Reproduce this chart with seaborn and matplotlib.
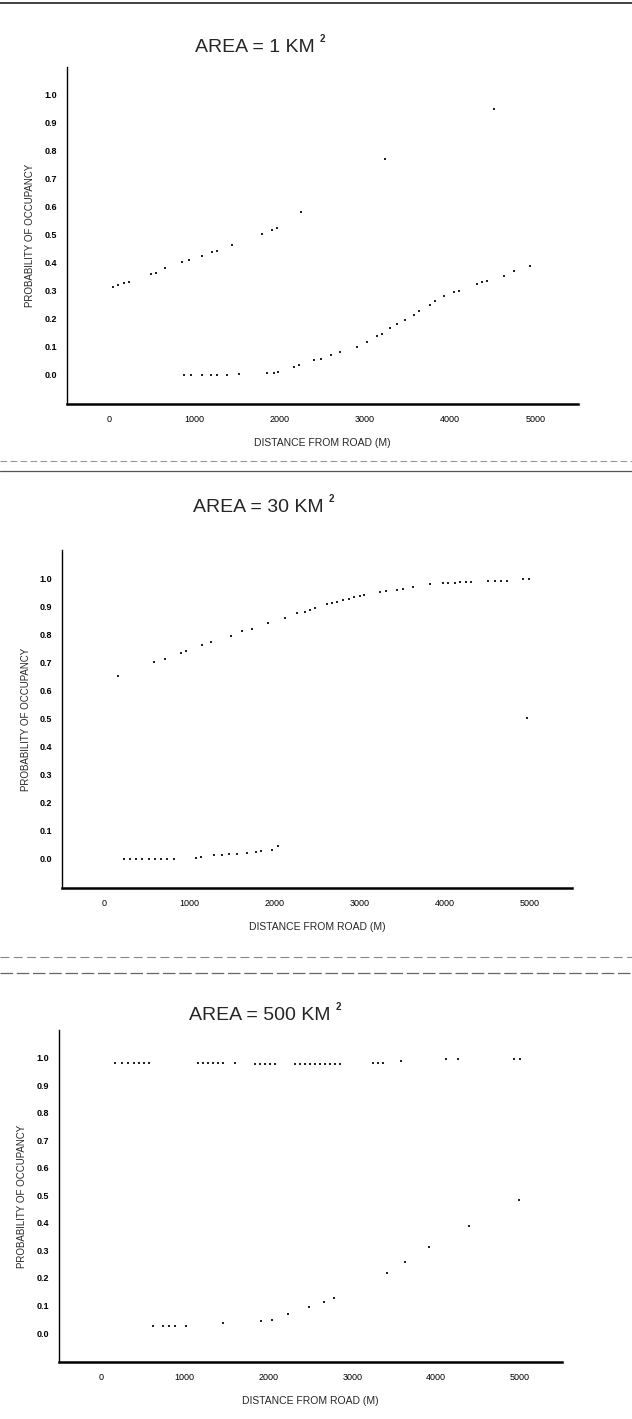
"""
Probabilidad de ocupación vs distancia a la carretera, para tres tamaños de área.
Recreación de una figura escaneada (tres paneles apilados).
"""

import matplotlib
matplotlib.use("Agg")
import matplotlib.pyplot as plt
from matplotlib.lines import Line2D
import seaborn as sns

# --- datos ---
p1_upper_x = [43, 98, 168, 227, 481, 540, 646, 853, 931, 1088, 1205, 1256, 1440, 1792, 1909, 1968, 2250, 3231, 4519]
p1_upper_y = [0.313, 0.319, 0.327, 0.33, 0.361, 0.365, 0.38, 0.402, 0.41, 0.425, 0.438, 0.443, 0.462, 0.504, 0.518, 0.524, 0.58, 0.77, 0.95]
p1_lower_x = [872, 951, 1088, 1185, 1264, 1381, 1518, 1851, 1929, 1976, 2164, 2222, 2406, 2477, 2594, 2711,
              2907, 3024, 3141, 3200, 3290, 3377, 3474, 3572, 3638, 3760, 3826, 3924, 4041, 4100, 4315,
              4374, 4433, 4628, 4745, 4941]
p1_lower_y = [0.0, 0.0, 0.0, 0.0, 0.0, 0.0, 0.002, 0.006, 0.006, 0.01, 0.029, 0.033, 0.051, 0.057, 0.071, 0.082,
              0.098, 0.115, 0.137, 0.145, 0.167, 0.181, 0.196, 0.214, 0.226, 0.25, 0.262, 0.28, 0.294, 0.298, 0.324,
              0.33, 0.336, 0.354, 0.369, 0.389]

p2_upper_x = [161, 584, 709, 897, 963, 1151, 1257, 1484, 1620, 1738, 1926, 2121, 2266, 2364, 2422, 2481, 2618,
              2677, 2736, 2806, 2872, 2939, 3001, 3048, 3244, 3315, 3440, 3510, 3635, 3831, 3987, 4046, 4124,
              4183, 4254, 4309, 4515, 4594, 4664, 4731, 4926, 4997, 4966]
p2_upper_y = [0.651, 0.701, 0.713, 0.733, 0.74, 0.761, 0.773, 0.793, 0.811, 0.82, 0.838, 0.858, 0.874, 0.88, 0.886,
              0.892, 0.906, 0.912, 0.915, 0.921, 0.925, 0.931, 0.936, 0.939, 0.949, 0.954, 0.957, 0.961, 0.969,
              0.978, 0.983, 0.983, 0.983, 0.985, 0.986, 0.987, 0.988, 0.988, 0.988, 0.99, 0.995, 0.996, 0.502]
p2_lower_x = [231, 303, 374, 446, 518, 590, 661, 733, 818, 1073, 1131, 1288, 1386, 1464, 1562, 1680, 1777, 1836, 1973, 2039]
p2_lower_y = [0.0, 0.0, 0.0, 0.0, 0.0, 0.0, 0.0, 0.0, 0.0, 0.003, 0.005, 0.011, 0.012, 0.015, 0.017, 0.02, 0.024,
              0.026, 0.031, 0.043]

p3_upper_x = [170, 250, 321, 389, 449, 508, 568, 1155, 1222, 1282, 1341, 1401, 1460, 1599, 1837, 1897, 1956, 2016,
              2075, 2313, 2373, 2432, 2492, 2552, 2611, 2671, 2730, 2790, 2849, 3246, 3306, 3365, 3583, 4119, 4258,
              4932, 5004]
p3_upper_y = [0.98, 0.98, 0.98, 0.98, 0.98, 0.98, 0.98, 0.98, 0.98, 0.98, 0.98, 0.98, 0.98, 0.98, 0.975, 0.975,
              0.975, 0.975, 0.975, 0.978, 0.978, 0.978, 0.978, 0.978, 0.978, 0.978, 0.978, 0.978, 0.978, 0.98,
              0.98, 0.98, 0.987, 0.993, 0.993, 0.995, 0.995]
p3_lower_x = [618, 738, 810, 881, 1015, 1455, 1909, 2038, 2229, 2482, 2659, 2783, 3414, 3628, 3914, 4396, 4988]
p3_lower_y = [0.024, 0.024, 0.024, 0.024, 0.027, 0.036, 0.043, 0.048, 0.069, 0.093, 0.113, 0.127, 0.217, 0.258,
              0.314, 0.39, 0.484]

areas = ["1", "30", "500"]
x_ticks = [0, 1000, 2000, 3000, 4000, 5000]
y_ticks = [0.0, 0.1, 0.2, 0.3, 0.4, 0.5, 0.6, 0.7, 0.8, 0.9, 1.0]

sns.set_style("white")
plt.rcParams["font.family"] = ["Liberation Sans", "DejaVu Sans"]

W, H = 632, 1419
fig = plt.figure(figsize=(W / 100, H / 100), dpi=100)


def rect(izq, der, arriba, abajo):
    return [izq / W, 1 - abajo / H, (der - izq) / W, (abajo - arriba) / H]


def panel(caja, area, curvas, titulo_xy, ylab_x, xlab_y):
    ax = fig.add_axes(rect(*caja))
    for xs, ys in curvas:
        sns.scatterplot(x=xs, y=ys, ax=ax, color="#222222", s=2, marker="s", linewidth=0, legend=False)
    ax.set_xlim(-500, 5500)
    ax.set_ylim(-0.105, 1.1)
    ax.set_xticks(x_ticks)
    ax.set_xticklabels([str(t) for t in x_ticks], fontsize=6.5)
    ax.set_yticks(y_ticks)
    ax.set_yticklabels([f"{t:.1f}" for t in y_ticks], fontsize=6.5, fontweight="bold")
    ax.tick_params(axis="y", direction="in", length=4, width=0.8, pad=7, colors="black")
    ax.tick_params(axis="x", length=0, pad=8, colors="black")
    for lado in ["top", "right"]:
        ax.spines[lado].set_visible(False)
    ax.spines["left"].set_color("black")
    ax.spines["left"].set_linewidth(1.0)
    ax.spines["bottom"].set_color("black")
    ax.spines["bottom"].set_linewidth(1.8)
    ax.set_xlabel("")
    ax.set_ylabel("")
    ax.grid(False)

    # textos en coordenadas de figura (posiciones del escaneo)
    tx, ty = titulo_xy
    t = fig.text(tx / W, 1 - ty / H, "AREA = " + area + " KM", ha="center", va="center", fontsize=14)
    fig.canvas.draw()
    fin = t.get_window_extent().x1
    fig.text((fin + 5) / W, 1 - (ty - 8) / H, "2", ha="left", va="center", fontsize=7, fontweight="bold")
    cx = (caja[0] + caja[1]) / 2
    fig.text(cx / W, 1 - xlab_y / H, "DISTANCE FROM ROAD (M)", ha="center", va="center", fontsize=7.5)
    cy = (caja[2] + caja[3]) / 2
    fig.text(ylab_x / W, 1 - cy / H, "PROBABILITY OF OCCUPANCY", ha="center", va="center",
             rotation=90, fontsize=7)
    return ax


panel((67, 578, 67, 404), areas[0], [(p1_upper_x, p1_upper_y), (p1_lower_x, p1_lower_y)], (255, 47), 30, 443)
panel((62, 572, 550, 888), areas[1], [(p2_upper_x, p2_upper_y), (p2_lower_x, p2_lower_y)], (258, 507), 26, 927)
panel((59, 562, 1030, 1362), areas[2], [(p3_upper_x, p3_upper_y), (p3_lower_x, p3_lower_y)], (260, 1015), 22, 1401)

# líneas de borde de página del escaneo
for yy, col, ls, lw in [(3, "#222222", "-", 1.2), (461, "#999999", (0, (6, 3)), 0.8), (471, "#555555", "-", 0.9),
                        (957, "#888888", (0, (8, 4)), 0.8), (973, "#666666", (0, (10, 3)), 0.9)]:
    fig.add_artist(Line2D([0, 1], [1 - yy / H, 1 - yy / H], transform=fig.transFigure,
                          color=col, linestyle=ls, linewidth=lw))

plt.savefig("out.png", dpi=100)
plt.close()
